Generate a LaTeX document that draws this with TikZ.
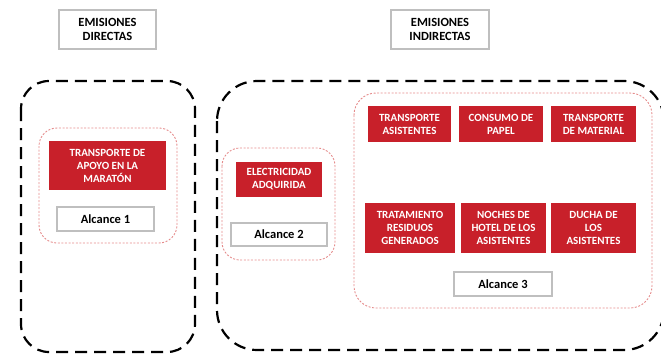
\documentclass[tikz,border=0pt]{standalone}
\usepackage{fontspec}
\setmainfont{Carlito}
\definecolor{redfill}{HTML}{C8202A}
\definecolor{dotred}{HTML}{E58C8C}

\begin{document}
\begin{tikzpicture}[x=1pt, y=-1pt, every text node part/.style={align=center},
    titlebox/.style={draw=black!25, line width=1.6pt, fill=white, inner sep=0pt, font=\bfseries\fontsize{12.5}{14}\selectfont},
    redbox/.style={fill=redfill, text=white, inner sep=0pt, font=\bfseries\fontsize{11}{13}\selectfont},
    scopebox/.style={draw=black!25, line width=1.6pt, fill=white, inner sep=0pt, minimum height=24, font=\bfseries\fontsize{12.5}{14}\selectfont},
    group/.style={draw=black, line width=2.2pt, dash pattern=on 12pt off 7pt},
    subgroup/.style={draw=dotred, line width=0.9pt, dash pattern=on 2pt off 1.6pt, rounded corners=18pt}]
    \clip (0, 0) rectangle (661, 354);
    \node (dir) [titlebox, minimum width=97, minimum height=39] at (107.5, 29.5) {EMISIONES\\DIRECTAS};
    \node (ind) [titlebox, minimum width=98, minimum height=39] at (440, 29.5) {EMISIONES\\INDIRECTAS};
    \draw[group, rounded corners=28pt] (21, 81) rectangle (195, 352);
    \draw[group, rounded corners=40pt] (217, 81) rectangle (664, 350);
    \draw[subgroup] (39, 128) rectangle (177, 243);
    \draw[subgroup] (222, 148) rectangle (335, 260);
    \draw[subgroup, rounded corners=22pt] (354, 93) rectangle (652, 308);
    \node (apoyo) [redbox, minimum width=117, minimum height=49] at (107.5, 165.5) {TRANSPORTE DE\\APOYO EN LA\\MARATÓN};
    \node (alc1) [scopebox, minimum width=97] at (105.5, 219) {Alcance 1};
    \node (elec) [redbox, minimum width=86, minimum height=35] at (279, 179.5) {ELECTRICIDAD\\ADQUIRIDA};
    \node (alc2) [scopebox, minimum width=96, minimum height=23] at (279, 234.5) {Alcance 2};
    \node (tasist) [redbox, minimum width=83, minimum height=36] at (409.5, 124) {TRANSPORTE\\ASISTENTES};
    \node (papel) [redbox, minimum width=84, minimum height=36] at (501, 124) {CONSUMO DE\\PAPEL};
    \node (tmat) [redbox, minimum width=85, minimum height=36] at (593.5, 124) {TRANSPORTE\\DE MATERIAL};
    \node (resid) [redbox, minimum width=90, minimum height=50] at (410, 228) {TRATAMIENTO\\RESIDUOS\\GENERADOS};
    \node (hotel) [redbox, minimum width=85, minimum height=50] at (503.5, 228) {NOCHES DE\\HOTEL DE LOS\\ASISTENTES};
    \node (ducha) [redbox, minimum width=85, minimum height=50] at (593.5, 228) {DUCHA DE\\LOS\\ASISTENTES};
    \node (alc3) [scopebox, minimum width=98] at (503, 284) {Alcance 3};
  \end{tikzpicture}
\end{document}
